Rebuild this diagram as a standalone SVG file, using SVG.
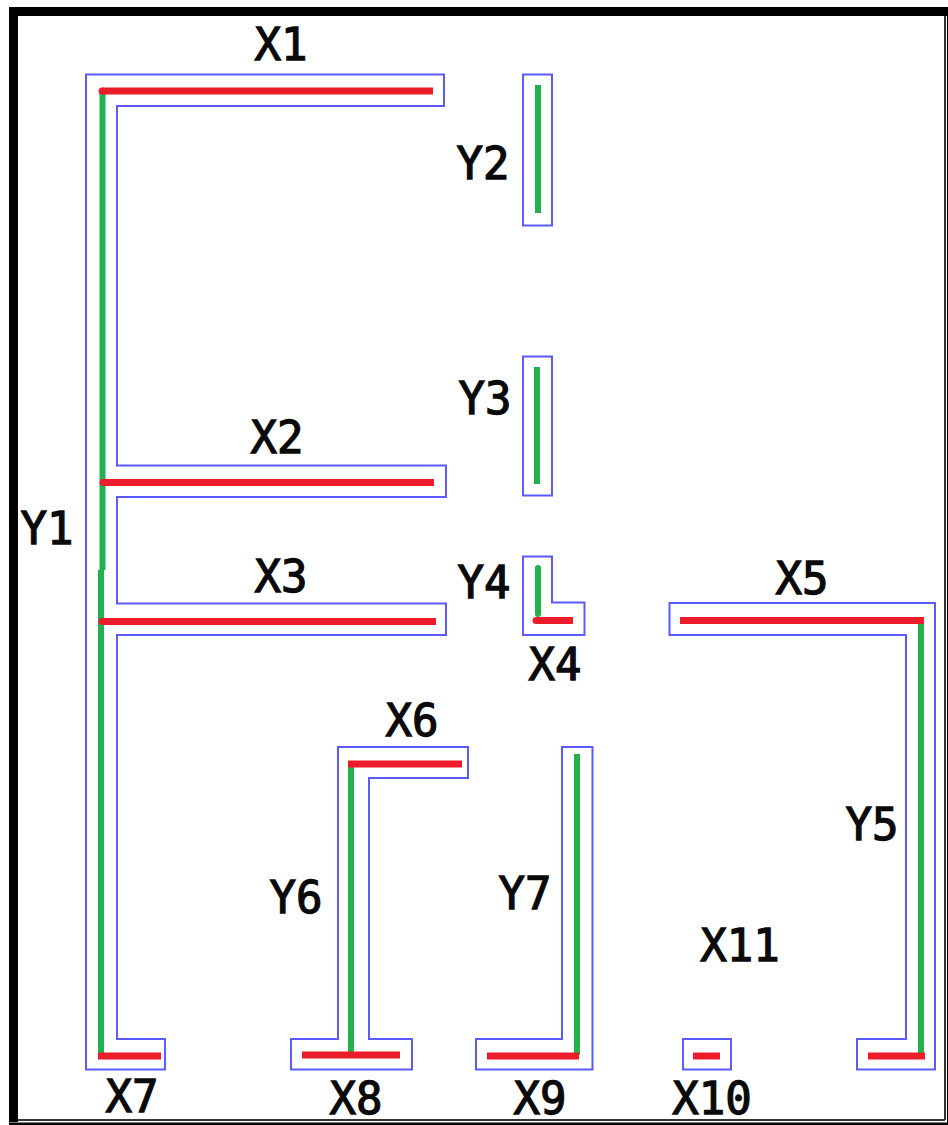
<svg xmlns="http://www.w3.org/2000/svg" width="948" height="1125" viewBox="0 0 948 1125">
<style>
.o{fill:none;stroke:#5a5aff;stroke-width:2}
.r{fill:none;stroke:#ed1c2b;stroke-width:7}
.g{fill:none;stroke:#22b14c;stroke-width:6}
text{font-family:"DejaVu Sans Mono","Liberation Mono",monospace;font-size:44px;font-weight:400;fill:#0a0a0a;stroke:#0a0a0a;stroke-width:1.300;text-anchor:middle}
</style>
<rect width="948" height="1125" fill="#fff"/>
<path d="M9 7H948V16H18V1119H9Z" fill="#000"/>
<path d="M9 1119H18V1122H9Z" fill="#000"/>
<rect x="9" y="1122.500" width="939" height="2.500" fill="#000"/>
<path d="M18 1120H945M945 16V1120" fill="none" stroke="#333" stroke-width="2"/>
<rect x="947" y="7" width="1" height="1118" fill="#000"/>
<g id="outlines">
<path id="outline-main" class="o" d="M86 74.500H444V106H117V465.500H446V497H117V603.500H446V635H117V1039H165V1069.500H86Z"/>
<rect id="outline-y2" class="o" x="523" y="74.500" width="29" height="151"/>
<rect id="outline-y3" class="o" x="523" y="356.500" width="29" height="139"/>
<path id="outline-y4" class="o" d="M523 556.500H552V602.500H584.500V635H523Z"/>
<path id="outline-x5" class="o" d="M669.500 603H935V1069.500H857V1039H906V635H669.500Z"/>
<path id="outline-x6" class="o" d="M338 747H468V778H369V1039H412V1069.500H291V1039H338Z"/>
<path id="outline-y7" class="o" d="M562 747H592.500V1069.500H476V1039H562Z"/>
<rect id="outline-x10" class="o" x="683" y="1039" width="48" height="30.500"/>
</g>
<g id="connectors">
<path class="g" d="M102.500 91V570"/>
<path class="g" d="M101 570V1056"/>
<path class="g" d="M538 85V213"/>
<path class="g" d="M537 367V484"/>
<path class="g" d="M538 568V614" stroke-linecap="round"/>
<path class="g" d="M921 620V1055"/>
<path class="g" d="M351 764V1052"/>
<path class="g" d="M577 754V1055"/>
<path class="r" d="M102 91H433"/>
<path class="r" d="M103 482.500H434"/>
<path class="r" d="M102 621.500H436"/>
<path class="r" d="M536 620.500H573"/>
<path class="r" d="M680 620.500H924"/>
<path class="r" d="M348 764H462"/>
<path class="r" d="M98 1056H161"/>
<path class="r" d="M302 1055H400"/>
<path class="r" d="M487 1056H579"/>
<path class="r" d="M693 1056H720"/>
<path class="r" d="M868 1056H925"/>
<g stroke-linecap="round"><path class="r" d="M102 91H102.100"/><path class="r" d="M103 482.500H103.100"/><path class="r" d="M102 621.500H102.100"/><path class="r" d="M536 620.500H536.100"/></g>
</g>
<g id="X1"><text x="281" y="60">X1</text></g>
<g id="X2"><text x="277" y="453">X2</text></g>
<g id="X3"><text x="281" y="592">X3</text></g>
<g id="X4"><text x="555" y="680">X4</text></g>
<g id="X5"><text x="802" y="594">X5</text></g>
<g id="X6"><text x="412" y="736">X6</text></g>
<g id="X7"><text x="132" y="1112">X7</text></g>
<g id="X8"><text x="356" y="1114">X8</text></g>
<g id="X9"><text x="540" y="1114">X9</text></g>
<g id="X10"><text x="712" y="1114">X10</text></g>
<g id="X11"><text x="740" y="961">X11</text></g>
<g id="Y1"><text x="47" y="544">Y1</text></g>
<g id="Y2"><text x="483" y="179">Y2</text></g>
<g id="Y3"><text x="485" y="414">Y3</text></g>
<g id="Y4"><text x="484" y="598">Y4</text></g>
<g id="Y5"><text x="872" y="840">Y5</text></g>
<g id="Y6"><text x="296" y="913">Y6</text></g>
<g id="Y7"><text x="525" y="909">Y7</text></g>
</svg>
